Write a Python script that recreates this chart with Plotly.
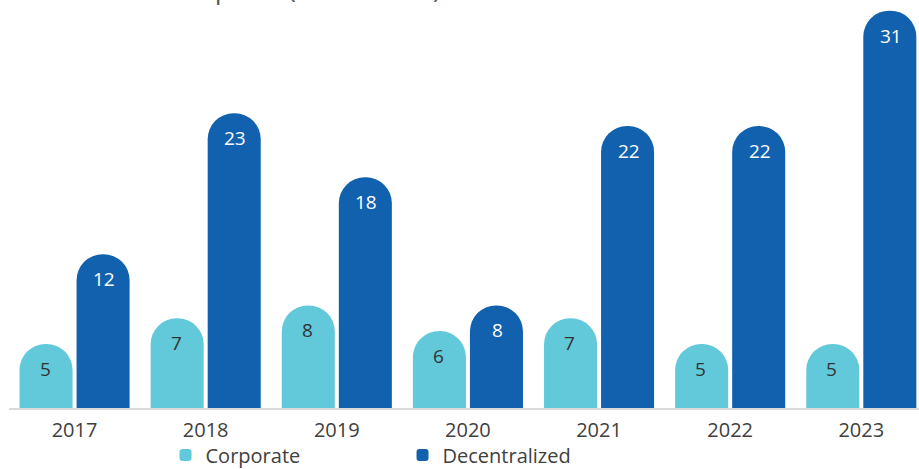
import plotly.graph_objects as go

years = ["2017", "2018", "2019", "2020", "2021", "2022", "2023"]
corporate = [5, 7, 8, 6, 7, 5, 5]
decentralized = [12, 23, 18, 8, 22, 22, 31]
series_names = ["Corporate", "Decentralized"]
title_text = "Number of Reports (2017–2023)"

C_CORP = "#62C9DA"
C_DEC = "#1261AE"
FONT = "Open Sans"

fig = go.Figure()
fig.add_trace(go.Bar(x=years, y=corporate, name=series_names[0],
                     marker=dict(color=C_CORP, cornerradius="50%", line=dict(width=0))))
fig.add_trace(go.Bar(x=years, y=decentralized, name=series_names[1],
                     marker=dict(color=C_DEC, cornerradius="50%", line=dict(width=0))))

off = 0.225
for i, v in enumerate(corporate):
    fig.add_annotation(x=i - off, y=v, xref="x", yref="y", text=str(v), showarrow=False,
                       yanchor="middle", yshift=-25,
                       font=dict(family=FONT, size=19, color="#333333"))
for i, v in enumerate(decentralized):
    fig.add_annotation(x=i + off, y=v, xref="x", yref="y", text=str(v), showarrow=False,
                       yanchor="middle", yshift=-25,
                       font=dict(family=FONT, size=19, color="#FFFFFF"))

fig.add_annotation(x=0.031, y=1, xref="paper", yref="paper", xanchor="left", yanchor="bottom",
                   yshift=2, text=title_text, showarrow=False,
                   font=dict(family=FONT, size=27, color="#595959"))

fig.update_layout(
    width=919, height=469,
    margin=dict(l=9, r=0, t=10, b=61, autoexpand=False),
    paper_bgcolor="white", plot_bgcolor="white",
    barmode="group", bargap=0.13, bargroupgap=0.07,
    font=dict(family=FONT, color="#404040"),
    showlegend=True,
    legend=dict(orientation="h", x=0.172, xanchor="left", y=-0.118, yanchor="middle",
                font=dict(family=FONT, size=20, color="#404040"),
                entrywidth=192, itemwidth=30, bgcolor="rgba(0,0,0,0)"),
    xaxis=dict(type="category", range=[-0.5, 6.44], showgrid=False, zeroline=False,
               showline=True, linecolor="#D9D9D9", linewidth=2, ticks="",
               ticklabelstandoff=3,
               tickfont=dict(family=FONT, size=20, color="#404040")),
    yaxis=dict(range=[0, 31.05], showgrid=False, zeroline=False, showline=False,
               showticklabels=False, ticks=""),
)

fig.write_html("out.html")
